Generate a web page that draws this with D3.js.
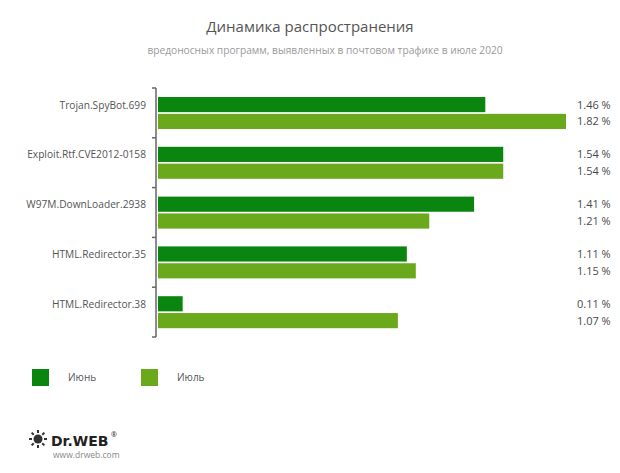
<!DOCTYPE html>
<html><head><meta charset="utf-8">
<script src="https://cdn.jsdelivr.net/npm/d3@7"></script>
<style>body{margin:0;background:#fff}svg{display:block}</style>
</head><body>
<script>
const categories = ["Trojan.SpyBot.699","Exploit.Rtf.CVE2012-0158","W97M.DownLoader.2938","HTML.Redirector.35","HTML.Redirector.38"];
const june = [1.46,1.54,1.41,1.11,0.11];
const july = [1.82,1.54,1.21,1.15,1.07];
const seriesNames = ["Июнь","Июль"];
const colors = ["#0a850f","#6aa81c"];
const title = "Динамика распространения";
const subtitle = "вредоносных программ, выявленных в почтовом трафике в июле 2020";

const W=620,H=473;
const svg=d3.select("body").append("svg").attr("width",W).attr("height",H);
const font="'Open Sans', 'DejaVu Sans', sans-serif";

svg.append("text").attr("x",310).attr("y",32).attr("text-anchor","middle")
  .attr("font-family",font).attr("font-size",15).attr("fill","#555").text(title);
svg.append("text").attr("x",325).attr("y",54).attr("text-anchor","middle")
  .attr("font-family",font).attr("font-size",10.2).attr("fill","#9a9a9a").text(subtitle);

const y=d3.scaleBand().domain(categories).range([88,337]);
const x=d3.scaleLinear().domain([0,1.82]).range([158,566]);
const sub=d3.scaleBand().domain([0,1]).range([9,41]).paddingInner(0.1);

const data=categories.map((c,i)=>({c,vals:[june[i],july[i]]}));
const g=svg.append("g");
data.forEach(d=>{
  d.vals.forEach((v,k)=>{
    g.append("rect").attr("x",x(0)).attr("y",y(d.c)+sub(k)).attr("width",x(v)-x(0))
      .attr("height",sub.bandwidth()).attr("fill",colors[k]);
    g.append("text").attr("x",577).attr("y",y(d.c)+sub(k)+sub.bandwidth()/2+4)
      .attr("font-family",font).attr("font-size",11).attr("fill","#4a4a4a").text(v.toFixed(2)+" %");
  });
  g.append("text").attr("x",146).attr("y",y(d.c)+sub(0)+sub.bandwidth()/2+4).attr("text-anchor","end")
    .attr("font-family",font).attr("font-size",10.2).attr("fill","#555").text(d.c);
});

// axis
const axis=svg.append("g");
axis.append("line").attr("x1",156).attr("x2",156).attr("y1",88).attr("y2",337).attr("stroke","#666").attr("stroke-width",1.5);
const ticks=categories.map(c=>y(c)).concat([y.range()[1]]);
ticks.forEach(t=>axis.append("line").attr("x1",152).attr("x2",156).attr("y1",t).attr("y2",t).attr("stroke","#666").attr("stroke-width",1.5));

// legend
const lx=[32,141];
seriesNames.forEach((n,k)=>{
  svg.append("rect").attr("x",lx[k]).attr("y",369).attr("width",17).attr("height",17).attr("fill",colors[k]);
  svg.append("text").attr("x",lx[k]+36).attr("y",381).attr("font-family",font).attr("font-size",10)
    .attr("fill","#555").text(n);
});

// logo
const logo=svg.append("g");
const cx=38,cy=439;
for(let a=0;a<8;a++){
  const ang=a*Math.PI/4;
  logo.append("line").attr("x1",cx+Math.cos(ang)*6).attr("y1",cy+Math.sin(ang)*6)
    .attr("x2",cx+Math.cos(ang)*9).attr("y2",cy+Math.sin(ang)*9).attr("stroke","#333").attr("stroke-width",2);
}
logo.append("circle").attr("cx",cx).attr("cy",cy).attr("r",4.5).attr("fill","#333");
logo.append("text").attr("x",51).attr("y",446).attr("font-family","'DejaVu Sans', sans-serif").attr("font-weight","bold")
  .attr("font-size",14).attr("fill","#222").text("Dr.WEB");
logo.append("text").attr("x",111).attr("y",437).attr("font-family",font).attr("font-size",7).attr("fill","#222").text("®");
logo.append("text").attr("x",53).attr("y",458).attr("font-family",font).attr("font-size",8.5).attr("fill","#888").text("www.drweb.com");
</script>
</body></html>
